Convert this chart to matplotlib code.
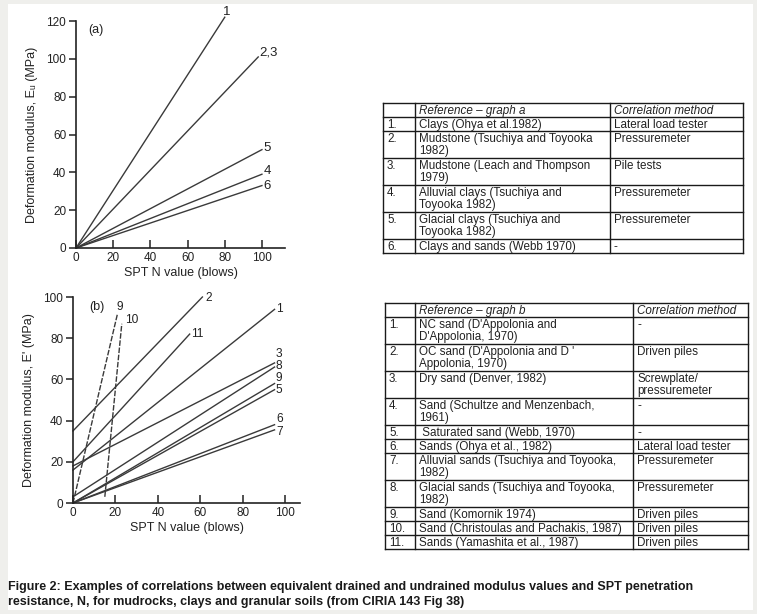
import matplotlib
matplotlib.use("Agg")
import matplotlib.pyplot as plt
from matplotlib.patches import Rectangle

# ---------------- data ----------------
a_labels = ["1", "2,3", "5", "4", "6"]
a_x = [[0, 80], [0, 98], [0, 100], [0, 100], [0, 100]]
a_y = [[0, 122], [0, 101], [0, 52], [0, 39], [0, 33]]

b_labels = ["1", "2", "3", "8", "9", "5", "6", "7", "9", "10", "11"]
b_x = [[0, 95], [0, 61], [0, 95], [0, 95], [0, 95], [0, 95], [0, 95], [0, 95],
       [0, 21], [15, 23], [0, 55]]
b_y = [[16, 94], [35, 100], [18, 68], [3, 66], [0, 58], [0, 55], [0, 38], [0, 35.5],
       [0, 92], [3, 87], [20, 82]]
b_dashed = [False, False, False, False, False, False, False, False, True, True, False]

a_yticks = [0, 20, 40, 60, 80, 100, 120]
b_yticks = [0, 20, 40, 60, 80, 100]
xticks = [0, 20, 40, 60, 80, 100]

table_a_header = ["Reference \u2013 graph a", "Correlation method"]
table_a_nums = ["1.", "2.", "3.", "4.", "5.", "6."]
table_a_refs = ["Clays (Ohya et al.1982)",
                "Mudstone (Tsuchiya and Toyooka\n1982)",
                "Mudstone (Leach and Thompson\n1979)",
                "Alluvial clays (Tsuchiya and\nToyooka 1982)",
                "Glacial clays (Tsuchiya and\nToyooka 1982)",
                "Clays and sands (Webb 1970)"]
table_a_methods = ["Lateral load tester", "Pressuremeter", "Pile tests",
                   "Pressuremeter", "Pressuremeter", "-"]

table_b_header = ["Reference \u2013 graph b", "Correlation method"]
table_b_nums = ["1.", "2.", "3.", "4.", "5.", "6.", "7.", "8.", "9.", "10.", "11."]
table_b_refs = ["NC sand (D'Appolonia and\nD'Appolonia, 1970)",
                "OC sand (D'Appolonia and D '\nAppolonia, 1970)",
                "Dry sand (Denver, 1982)",
                "Sand (Schultze and Menzenbach,\n1961)",
                " Saturated sand (Webb, 1970)",
                "Sands (Ohya et al., 1982)",
                "Alluvial sands (Tsuchiya and Toyooka,\n1982)",
                "Glacial sands (Tsuchiya and Toyooka,\n1982)",
                "Sand (Komornik 1974)",
                "Sand (Christoulas and Pachakis, 1987)",
                "Sands (Yamashita et al., 1987)"]
table_b_methods = ["-", "Driven piles", "Screwplate/\npressuremeter", "-", "-",
                   "Lateral load tester", "Pressuremeter", "Pressuremeter",
                   "Driven piles", "Driven piles", "Driven piles"]

caption = ("Figure 2: Examples of correlations between equivalent drained and undrained modulus values and SPT penetration\n"
           "resistance, N, for mudrocks, clays and granular soils (from CIRIA 143 Fig 38)")

# ---------------- layout ----------------
W, H = 757, 614
plt.rcParams["font.family"] = ["Liberation Sans", "DejaVu Sans"]
fig = plt.figure(figsize=(W / 100, H / 100), dpi=100)
fig.patch.set_facecolor("white")

LINE_C = "#3a3a3a"
TXT_C = "#222222"


def px_rect(l, t, r, b):
    return [l / W, 1 - b / H, (r - l) / W, (b - t) / H]


# background frame
bg = fig.add_axes([0, 0, 1, 1])
bg.set_xlim(0, W)
bg.set_ylim(H, 0)
bg.axis("off")
bg.add_patch(Rectangle((0, 0), W, H, facecolor="#efefec", edgecolor="none", zorder=0))
bg.add_patch(Rectangle((8, 4), W - 12, H - 8, facecolor="white", edgecolor="none", zorder=1))


def style_axis(ax, xmax, ymax, yticks):
    ax.set_xlim(0, xmax)
    ax.set_ylim(0, ymax)
    ax.patch.set_alpha(0)
    for s in ["top", "right"]:
        ax.spines[s].set_visible(False)
    for s in ["left", "bottom"]:
        ax.spines[s].set_color("#222222")
        ax.spines[s].set_linewidth(1.2)
    ax.set_xticks(xticks)
    ax.set_yticks(yticks)
    ax.tick_params(axis="x", direction="in", length=6, width=1.1, pad=3,
                   labelsize=8.5, colors="#222222")
    ax.tick_params(axis="y", direction="out", length=5, width=1.1, pad=2,
                   labelsize=8.5, colors="#222222")
    ax.set_xlabel("SPT N value (blows)", fontsize=9, color=TXT_C, labelpad=2)


# ---- graph a ----
axa = fig.add_axes(px_rect(76, 21, 285, 248))
style_axis(axa, 112.4, 120, a_yticks)
axa.set_ylabel("Deformation modulus, E\u1d64 (MPa)", fontsize=9, color=TXT_C, labelpad=6)
a_off = [(-1, 4), (1, 3), (1, 1), (1, 2.5), (1, 0)]
for lab, xs, ys, off in zip(a_labels, a_x, a_y, a_off):
    axa.plot(xs, ys, color=LINE_C, lw=1.0, clip_on=False)
    axa.annotate(lab, (xs[-1], ys[-1]), xytext=off, textcoords="offset points",
                 fontsize=9.5, color=TXT_C, ha="left", va="center", annotation_clip=False)
axa.text(0.06, 0.985, "(a)", transform=axa.transAxes, fontsize=9, color=TXT_C,
         ha="left", va="top")

# ---- graph b ----
axb = fig.add_axes(px_rect(73, 297, 300, 503))
style_axis(axb, 107, 100, b_yticks)
axb.set_ylabel("Deformation modulus, E' (MPa)", fontsize=9, color=TXT_C, labelpad=6)
b_off = [(1, 0), (2, -1), (1, 6.3), (1, 0.8), (1, 4.2), (1, -0.5), (1, 3.8), (1, -1.8),
         (-1, 5), (2, 3), (1, 0)]
for lab, xs, ys, dsh, off in zip(b_labels, b_x, b_y, b_dashed, b_off):
    axb.plot(xs, ys, color=LINE_C, lw=1.0, ls=(0, (4, 1.2)) if dsh else "-", clip_on=False)
    axb.annotate(lab, (xs[-1], ys[-1]), xytext=off, textcoords="offset points",
                 fontsize=8.6, color=TXT_C, ha="left", va="center", annotation_clip=False)
axb.text(0.07, 0.98, "(b)", transform=axb.transAxes, fontsize=9, color=TXT_C,
         ha="left", va="top")


# ---- tables ----
def draw_table(top, cols, header, nums, refs, methods, line_h=13, pad=1):
    rows = [("", header[0], header[1])] + list(zip(nums, refs, methods))
    y = top
    bounds = [top]
    for i, (n, r, m) in enumerate(rows):
        nl = max(r.count("\n"), m.count("\n")) + 1
        h = pad + line_h * nl
        kw = dict(fontsize=8.4, color=TXT_C, va="top", ha="left", linespacing=1.0, zorder=3)
        if i == 0:
            kw["style"] = "italic"
        bg.text(cols[0] + 4, y + 1.8, n, **kw)
        bg.text(cols[1] + 4, y + 1.8, r, **kw)
        bg.text(cols[2] + 4, y + 1.8, m, **kw)
        y += h
        bounds.append(y)
    for yb in bounds:
        bg.plot([cols[0], cols[-1]], [yb, yb], color="#1a1a1a", lw=1.0, zorder=3)
    for xc in cols:
        bg.plot([xc, xc], [top, bounds[-1]], color="#1a1a1a", lw=1.0, zorder=3)


draw_table(103, [383, 415, 610, 743], table_a_header, table_a_nums, table_a_refs, table_a_methods)
draw_table(303, [385, 415, 633, 748], table_b_header, table_b_nums, table_b_refs, table_b_methods)

# ---- caption ----
bg.text(8, 581, caption, fontsize=9.0, fontweight="bold", color="#1a1a1a",
        ha="left", va="top", linespacing=1.35, zorder=3)

fig.savefig("out.png", dpi=100, facecolor="white")
